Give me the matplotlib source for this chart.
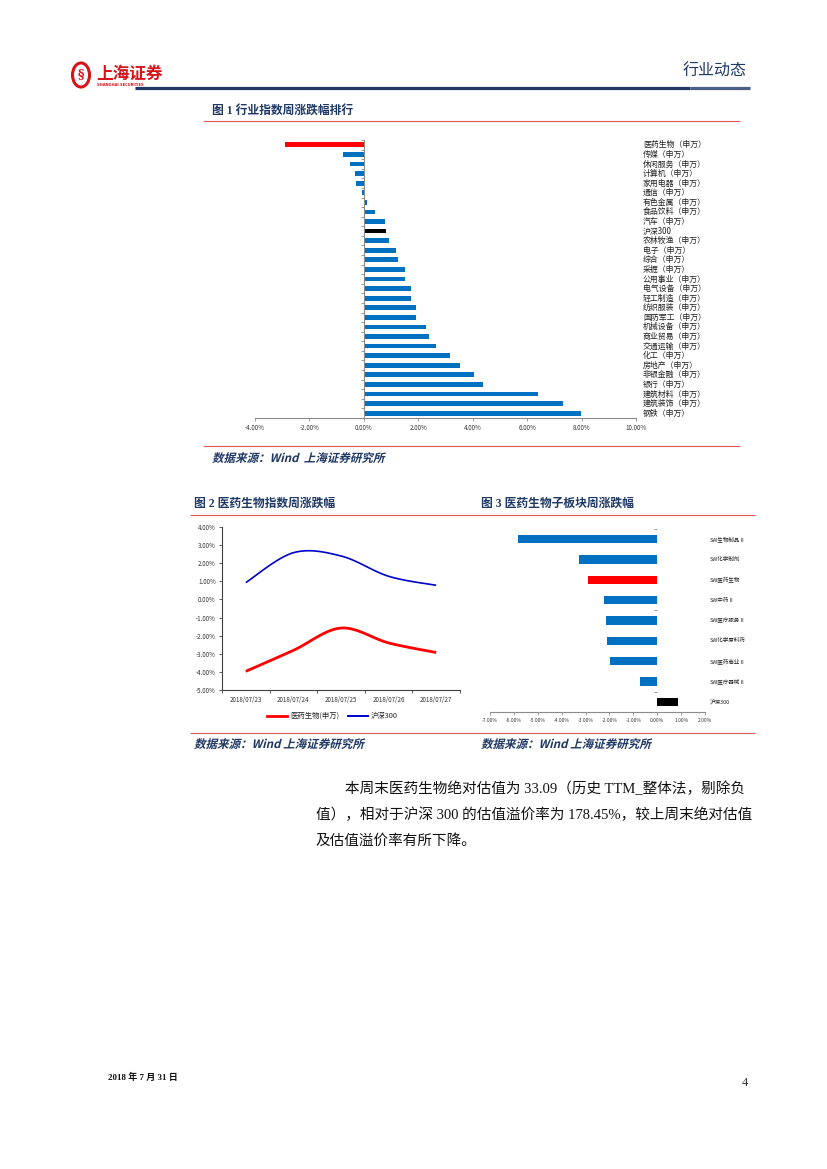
import numpy as np
import matplotlib
matplotlib.use('Agg')
import matplotlib.pyplot as plt
from matplotlib.lines import Line2D
from matplotlib import transforms
from matplotlib.patches import Circle, PathPatch
from matplotlib.textpath import TextPath
from matplotlib.font_manager import FontProperties

# ---------------- data ----------------
ind_labels = ['医药生物（申万）', '传媒（申万）', '休闲服务（申万）', '计算机（申万）', '家用电器（申万）',
              '通信（申万）', '有色金属（申万）', '食品饮料（申万）', '汽车（申万）', '沪深300',
              '农林牧渔（申万）', '电子（申万）', '综合（申万）', '采掘（申万）', '公用事业（申万）',
              '电气设备（申万）', '轻工制造（申万）', '纺织服装（申万）', '国防军工（申万）', '机械设备（申万）',
              '商业贸易（申万）', '交通运输（申万）', '化工（申万）', '房地产（申万）', '非银金融（申万）',
              '银行（申万）', '建筑材料（申万）', '建筑装饰（申万）', '钢铁（申万）']
ind_values = [-2.88, -0.76, -0.52, -0.34, -0.30, -0.08, 0.10, 0.42, 0.79, 0.82,
              0.93, 1.19, 1.26, 1.52, 1.52, 1.73, 1.73, 1.92, 1.92, 2.28,
              2.39, 2.64, 3.15, 3.55, 4.04, 4.39, 6.39, 7.33, 7.98]
ind_ticks = [-4, -2, 0, 2, 4, 6, 8, 10]

dates = ['2018/07/23', '2018/07/24', '2018/07/25', '2018/07/26', '2018/07/27']
med_line = [-3.97, -2.81, -1.58, -2.40, -2.93]
hs300_line = [0.93, 2.58, 2.40, 1.28, 0.78]
line_names = ['医药生物(申万)', '沪深300']
line_ticks = [-5, -4, -3, -2, -1, 0, 1, 2, 3, 4]

sub_labels = ['SW生物制品Ⅱ', 'SW化学制剂', 'SW医药生物', 'SW中药Ⅱ', 'SW医疗服务Ⅱ',
              'SW化学原料药', 'SW医药商业Ⅱ', 'SW医疗器械Ⅱ', '沪深300']
sub_values = [-5.83, -3.28, -2.89, -2.24, -2.15, -2.11, -1.99, -0.74, 0.85]
sub_ticks = [-7, -6, -5, -4, -3, -2, -1, 0, 1, 2]

# ---------------- page ----------------
W, H = 827, 1169
plt.rcParams['font.family'] = ['Noto Sans CJK SC', 'DejaVu Sans']
fig = plt.figure(figsize=(W / 100, H / 100), dpi=100)
fig.patch.set_facecolor('white')

NAVY = '#1f3864'
RED_LINE = '#e05a5a'
BAR_BLUE = '#0070c0'
SERIF = ['Liberation Serif', 'Noto Sans CJK SC']


def R(x0, y0, x1, y1):
    return [x0 / W, 1 - y1 / H, (x1 - x0) / W, (y1 - y0) / H]


def T(x, y, s, **kw):
    return fig.text(x / W, 1 - y / H, s, **kw)


def hline(x0, x1, y, color, lw):
    fig.add_artist(Line2D([x0 / W, x1 / W], [1 - y / H, 1 - y / H], color=color, lw=lw,
                          transform=fig.transFigure, solid_capstyle='butt'))


def italic_text(x, y_base, s, size_pt, color):
    fp = FontProperties(family='Noto Sans CJK SC', weight='bold')
    tp = TextPath((0, 0), s, size=size_pt * 100 / 72, prop=fp)
    tr = transforms.Affine2D().skew_deg(14, 0).translate(x, H - y_base).scale(1 / W, 1 / H)
    fig.add_artist(PathPatch(tp, transform=tr + fig.transFigure, facecolor=color, edgecolor='none'))


def smooth(xs, ys, k=30):
    xs = np.asarray(xs, float)
    ys = np.asarray(ys, float)
    px = np.concatenate([[xs[0]], xs, [xs[-1]]])
    py = np.concatenate([[ys[0]], ys, [ys[-1]]])
    ox, oy = [], []
    t = np.linspace(0, 1, k)
    for i in range(1, len(px) - 2):
        p0 = np.array([px[i], py[i]])
        p3 = np.array([px[i + 1], py[i + 1]])
        p1 = p0 + (np.array([px[i + 1], py[i + 1]]) - np.array([px[i - 1], py[i - 1]])) / 6
        p2 = p3 - (np.array([px[i + 2], py[i + 2]]) - np.array([px[i], py[i]])) / 6
        b = ((1 - t) ** 3)[:, None] * p0 + (3 * (1 - t) ** 2 * t)[:, None] * p1 + \
            (3 * (1 - t) * t ** 2)[:, None] * p2 + (t ** 3)[:, None] * p3
        ox.extend(b[:, 0])
        oy.extend(b[:, 1])
    return np.array(ox), np.array(oy)


def bar_colors(labels):
    out = []
    for l in labels:
        if '医药生物' in l:
            out.append('#ff0000')
        elif '沪深300' in l:
            out.append('#000000')
        else:
            out.append(BAR_BLUE)
    return out


# header
fig.add_artist(Circle((81 / W, 1 - 75 / H), 8.5 / W, transform=fig.transFigure,
                      facecolor='white', edgecolor='#d7141a', lw=2.2))
T(81, 75, '§', fontsize=9, color='#d7141a', ha='center', va='center', fontweight='bold',
  family=['DejaVu Serif'])
T(96, 74, '上海证券', fontsize=12, color='#d7141a', ha='left', va='center', fontweight='bold')
T(97, 85, 'SHANGHAI SECURITIES', fontsize=2.6, color='#d7141a', ha='left', va='center',
  fontweight='bold', family=['DejaVu Sans'])
T(747, 71, '行业动态', fontsize=11.5, color=NAVY, ha='right', va='center', fontweight='medium')
hline(135, 690, 88, NAVY, 2.3)
hline(690, 750, 88, '#4a5f86', 2.3)

# figure 1 title
T(212, 111, '图 1 行业指数周涨跌幅排行', fontsize=8.5, color=NAVY, ha='left', va='center',
  fontweight='bold', family=SERIF)
hline(203, 740, 121, RED_LINE, 0.8)

# ---------------- chart 1 ----------------
n1 = len(ind_labels)
ax1 = fig.add_axes(R(255, 140, 636, 418))
y1 = np.arange(n1)
ax1.barh(y1, ind_values, height=0.5, color=bar_colors(ind_labels))
ax1.set_xlim(ind_ticks[0], ind_ticks[-1])
ax1.set_ylim(n1 - 0.5, -0.5)
for s in ['top', 'right']:
    ax1.spines[s].set_visible(False)
ax1.spines['left'].set_position(('data', 0))
ax1.spines['left'].set_color('#8c8c8c')
ax1.spines['left'].set_linewidth(0.8)
ax1.spines['bottom'].set_color('#8c8c8c')
ax1.spines['bottom'].set_linewidth(0.8)
ax1.set_yticks(np.arange(n1 + 1) - 0.5)
ax1.set_yticklabels([])
ax1.tick_params(axis='y', length=2.5, width=0.6, color='#8c8c8c')
ax1.set_xticks(ind_ticks)
ax1.set_xticklabels([f'{v:.2f}%' for v in ind_ticks], fontsize=4.5, color='#333333')
ax1.tick_params(axis='x', length=2, width=0.6, color='#8c8c8c', pad=2)
bt1 = transforms.blended_transform_factory(ax1.transAxes, ax1.transData)
for i, l in enumerate(ind_labels):
    ax1.text(1.018, i, l, transform=bt1, fontsize=5.7, va='center', ha='left', color='#222222')

hline(203, 740, 446, RED_LINE, 0.8)
italic_text(212, 462, '数据来源：Wind  上海证券研究所', 8.3, NAVY)

# figure 2/3 titles
T(194, 504, '图 2 医药生物指数周涨跌幅', fontsize=8.5, color=NAVY, ha='left', va='center',
  fontweight='bold', family=SERIF)
T(481, 504, '图 3 医药生物子板块周涨跌幅', fontsize=8.5, color=NAVY, ha='left', va='center',
  fontweight='bold', family=SERIF)
hline(190, 755, 515, RED_LINE, 0.8)

# ---------------- chart 2 ----------------
ax2 = fig.add_axes(R(222, 527, 460, 690))
xs = np.arange(len(dates))
cx, cy = smooth(xs, med_line)
ax2.plot(cx, cy, color='#ff0000', lw=2.0, solid_capstyle='butt')
cx, cy = smooth(xs, hs300_line)
ax2.plot(cx, cy, color='#0000cc', lw=1.2, solid_capstyle='butt')
ax2.set_xlim(-0.5, len(dates) - 0.5)
ax2.set_ylim(line_ticks[0], line_ticks[-1])
for s in ['top', 'right']:
    ax2.spines[s].set_visible(False)
for s in ['left', 'bottom']:
    ax2.spines[s].set_color('#404040')
    ax2.spines[s].set_linewidth(0.8)
ax2.set_yticks(line_ticks)
ax2.set_yticklabels([f'{v:.2f}%' for v in line_ticks], fontsize=4.5, color='#333333')
ax2.tick_params(axis='y', length=2.5, width=0.6, color='#404040', pad=2)
ax2.set_xticks(xs)
ax2.set_xticklabels(dates, fontsize=4.5, color='#333333')
ax2.tick_params(axis='x', which='major', length=0, pad=4)
ax2.set_xticks(np.arange(len(dates) + 1) - 0.5, minor=True)
ax2.tick_params(axis='x', which='minor', length=2.5, width=0.6, color='#404040')

fig.add_artist(Line2D([267 / W, 287 / W], [1 - 716 / H] * 2, color='#ff0000', lw=2.0,
                      transform=fig.transFigure))
T(290, 716, line_names[0], fontsize=5.3, ha='left', va='center', color='#222222')
fig.add_artist(Line2D([348 / W, 368 / W], [1 - 716 / H] * 2, color='#0000cc', lw=1.4,
                      transform=fig.transFigure))
T(371, 716, line_names[1], fontsize=5.3, ha='left', va='center', color='#222222')

# ---------------- chart 3 ----------------
n3 = len(sub_labels)
ax3 = fig.add_axes(R(490, 529, 705, 712))
y3 = np.arange(n3)
ax3.barh(y3, sub_values, height=0.42, color=bar_colors(sub_labels))
ax3.set_xlim(sub_ticks[0], sub_ticks[-1])
ax3.set_ylim(n3 - 0.5, -0.5)
for s in ['top', 'right']:
    ax3.spines[s].set_visible(False)
ax3.spines['left'].set_position(('data', 0))
ax3.spines['left'].set_color('none')
ax3.spines['bottom'].set_color('#8c8c8c')
ax3.spines['bottom'].set_linewidth(0.8)
ax3.set_yticks([-0.5, 3.5, 7.5])
ax3.set_yticklabels([])
ax3.tick_params(axis='y', length=2, width=0.6, color='#8c8c8c')
ax3.set_xticks(sub_ticks)
ax3.set_xticklabels([f'{v:.2f}%' for v in sub_ticks], fontsize=3.5, color='#333333')
ax3.tick_params(axis='x', length=2, width=0.6, color='#8c8c8c', pad=2)
bt3 = transforms.blended_transform_factory(ax3.transAxes, ax3.transData)
for i, l in enumerate(sub_labels):
    ax3.text(1.02, i, l, transform=bt3, fontsize=4.0, va='center', ha='left', color='#222222')

hline(190, 755, 733, RED_LINE, 0.8)
italic_text(194, 748, '数据来源：Wind 上海证券研究所', 8.3, NAVY)
italic_text(481, 748, '数据来源：Wind 上海证券研究所', 8.3, NAVY)

# body text
T(345, 789, '本周末医药生物绝对估值为 33.09（历史 TTM_整体法，剔除负', fontsize=10.5,
  ha='left', va='center', color='#111111', family=SERIF)
T(316, 815, '值），相对于沪深 300 的估值溢价率为 178.45%，较上周末绝对估值', fontsize=10.5,
  ha='left', va='center', color='#111111', family=SERIF)
T(316, 841, '及估值溢价率有所下降。', fontsize=10.5, ha='left', va='center', color='#111111',
  family=SERIF)

# footer
T(108, 1077, '2018 年 7 月 31 日', fontsize=6.5, ha='left', va='center', color='#111111',
  fontweight='bold', family=SERIF)
T(748, 1083, '4', fontsize=9, ha='right', va='center', color='#333333', family=SERIF)

fig.savefig('out.png', dpi=100, facecolor='white')
